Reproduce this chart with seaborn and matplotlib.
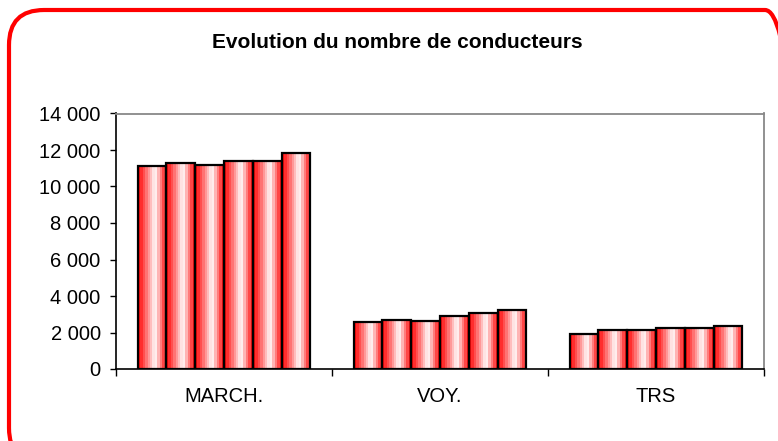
import numpy as np
import pandas as pd
import matplotlib
matplotlib.use("Agg")
import matplotlib.pyplot as plt
import seaborn as sns
from matplotlib.patches import FancyBboxPatch
from matplotlib.ticker import FuncFormatter, FixedLocator
from matplotlib.colors import ListedColormap

# data
categories = ['MARCH.', 'VOY.', 'TRS']
periods = ['P1', 'P2', 'P3', 'P4', 'P5', 'P6']
march = [11100, 11300, 11200, 11420, 11420, 11860]
voy = [2550, 2680, 2640, 2880, 3080, 3230]
trs = [1910, 2130, 2110, 2220, 2220, 2370]

df = pd.DataFrame({
    'cat': np.repeat(categories, len(periods)),
    'period': periods * 3,
    'val': march + voy + trs,
})

sns.set_style('white')
plt.rcParams['font.family'] = ['Liberation Sans', 'DejaVu Sans']
plt.rcParams['text.color'] = 'black'
plt.rcParams['xtick.color'] = 'black'
plt.rcParams['ytick.color'] = 'black'

fig = plt.figure(figsize=(7.78, 4.41), dpi=100)
ax = fig.add_axes([116 / 778, 1 - 369 / 441, (764 - 116) / 778, (369 - 113.5) / 441])

sns.barplot(data=df, x='cat', y='val', hue='period', order=categories,
            hue_order=periods, palette=['white'] * 6, width=0.8,
            edgecolor='black', linewidth=1.6, legend=False, ax=ax,
            errorbar=None, saturation=1)

# red / white striped gradient inside the bars
n = 12
t = (np.arange(n) + 0.5) / n
w = np.where(t < 0.6, t / 0.6, (1 - t) / 0.4)
w = np.clip(w, 0, 1) ** 1.1
grad_cmap = ListedColormap(np.column_stack([np.ones(n), w, w]))
grad = np.arange(n).reshape(1, n)
for p in list(ax.patches):
    x0, y0 = p.get_x(), p.get_y()
    bw, bh = p.get_width(), p.get_height()
    im = ax.imshow(grad, cmap=grad_cmap, aspect='auto', interpolation='nearest',
                   extent=[x0, x0 + bw, y0, y0 + bh], zorder=1.5)
    im.set_clip_path(p)
    p.set_facecolor('none')
    p.set_zorder(2)

ax.set_xlim(-0.5, 2.5)
ax.set_ylim(0, 14000)
ax.set_xlabel('')
ax.set_ylabel('')

ax.yaxis.set_major_locator(FixedLocator(np.arange(0, 14001, 2000)))
ax.yaxis.set_major_formatter(FuncFormatter(lambda v, _: f'{int(v):,}'.replace(',', ' ')))
ax.tick_params(axis='y', left=True, length=4, width=1, color='black',
               direction='out', pad=7, labelsize=14.5, labelcolor='black')
ax.set_xticks([0, 1, 2])
ax.set_xticklabels(categories)
ax.tick_params(axis='x', which='major', length=0, pad=13, labelsize=14.5,
               labelcolor='black')
ax.set_xticks([-0.5, 0.5, 1.5, 2.5], minor=True)
ax.tick_params(axis='x', which='minor', bottom=True, length=5, width=1,
               color='black', direction='out')

for s in ['left', 'bottom']:
    ax.spines[s].set_color('black')
    ax.spines[s].set_linewidth(1.2)
for s in ['top', 'right']:
    ax.spines[s].set_color('#888888')
    ax.spines[s].set_linewidth(1.3)
ax.set_facecolor('white')

fig.text(397 / 778, 1 - 42 / 441, 'Evolution du nombre de conducteurs',
         ha='center', va='center', fontsize=15, fontweight='bold', color='black')

# red rounded frame
frame = FancyBboxPatch((9 / 778, -0.05), (800 - 9) / 778, 1.05 - 10 / 441,
                       boxstyle='round,pad=0,rounding_size=0.045',
                       transform=fig.transFigure, facecolor='none',
                       edgecolor='#ff0000', linewidth=3, clip_on=False,
                       mutation_aspect=778 / 441)
fig.patches.append(frame)

fig.savefig('out.png', dpi=100)
